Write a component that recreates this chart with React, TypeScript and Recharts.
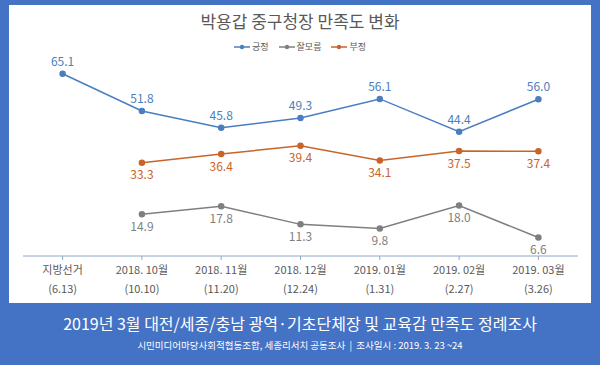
import React from "react";
import { LineChart, Line, XAxis, YAxis, LabelList } from "recharts";

const months = ["지방선거", "2018. 10월", "2018. 11월", "2018. 12월", "2019. 01월", "2019. 02월", "2019. 03월"];
const dates = ["(6.13)", "(10.10)", "(11.20)", "(12.24)", "(1.31)", "(2.27)", "(3.26)"];
const positive = [65.1, 51.8, 45.8, 49.3, 56.1, 44.4, 56.0];
const unsure = [null, 14.9, 17.8, 11.3, 9.8, 18.0, 6.6];
const negative = [null, 33.3, 36.4, 39.4, 34.1, 37.5, 37.4];

const data = months.map((m, i) => ({
  month: m,
  date: dates[i],
  긍정: positive[i],
  잘모름: unsure[i],
  부정: negative[i],
}));

const FONT = "'Noto Sans CJK KR', 'Noto Sans', sans-serif";
const FRAME = "#4472C4";
const BLUE = "#4A7EC0";
const GRAY = "#7F7F7F";
const ORANGE = "#C8642A";

const series = [
  { key: "긍정", color: BLUE },
  { key: "잘모름", color: GRAY },
  { key: "부정", color: ORANGE },
];

const fmt = (v: any) => (v == null ? "" : Number(v).toFixed(1));

const DateTick = (props: any) => {
  const { x, y, payload, index } = props;
  return (
    <g>
      <text x={x} y={y + 12} textAnchor="middle" fontSize={11} fill="#595959" fontFamily={FONT}>
        {payload.value}
      </text>
      <text x={x} y={y + 31} textAnchor="middle" fontSize={11} fill="#595959" fontFamily={FONT}>
        {dates[index]}
      </text>
    </g>
  );
};

export default function App() {
  return (
    <div style={{ position: "absolute", left: 0, top: 0, width: 600, height: 365, background: FRAME, fontFamily: FONT }}>
      <div style={{ position: "absolute", left: 9, top: 5, width: 582, height: 298, background: "#fff" }} />
      <div style={{ position: "absolute", left: 0, top: 8, width: 600, textAlign: "center", fontSize: 17, color: "#595959" }}>
        박용갑 중구청장 만족도 변화
      </div>
      <div style={{ position: "absolute", left: 0, top: 40, width: 600, display: "flex", justifyContent: "center", gap: 10, fontSize: 9, color: "#595959" }}>
        {series.map((s) => (
          <span key={s.key} style={{ display: "flex", alignItems: "center" }}>
            <svg width={16} height={6} style={{ marginRight: 2 }}>
              <line x1={0} y1={3} x2={16} y2={3} stroke={s.color} strokeWidth={1.5} />
              <circle cx={8} cy={3} r={2.2} fill={s.color} />
            </svg>
            {s.key}
          </span>
        ))}
      </div>
      <div style={{ position: "absolute", left: 0, top: 0 }}>
        <LineChart width={600} height={365} data={data} margin={{ top: 60, right: 22, bottom: 79, left: 23 }}>
          <XAxis
            dataKey="month"
            height={30}
            padding={{ left: 39.6, right: 39.6 }}
            axisLine={{ stroke: "#8FA8C8" }}
            tickLine={{ stroke: "#8FA8C8" }}
            tickSize={4}
            tick={<DateTick />}
            interval={0}
          />
          <YAxis hide domain={[0, 70]} />
          <Line dataKey="긍정" stroke={BLUE} strokeWidth={1.5} dot={{ r: 2.5, fill: BLUE, stroke: BLUE }} isAnimationActive={false}>
            <LabelList dataKey="긍정" position="top" offset={8} fill={BLUE} fontSize={12} fontFamily={FONT} formatter={fmt} />
          </Line>
          <Line dataKey="잘모름" stroke={GRAY} strokeWidth={1.5} dot={{ r: 2.5, fill: GRAY, stroke: GRAY }} isAnimationActive={false}>
            <LabelList dataKey="잘모름" position="bottom" offset={8} fill={GRAY} fontSize={12} fontFamily={FONT} formatter={fmt} />
          </Line>
          <Line dataKey="부정" stroke={ORANGE} strokeWidth={1.5} dot={{ r: 2.5, fill: ORANGE, stroke: ORANGE }} isAnimationActive={false}>
            <LabelList dataKey="부정" position="bottom" offset={8} fill={ORANGE} fontSize={12} fontFamily={FONT} formatter={fmt} />
          </Line>
        </LineChart>
      </div>
      <div style={{ position: "absolute", left: 0, top: 311, width: 600, textAlign: "center", fontSize: 16, color: "#fff" }}>
        2019년 3월 대전/세종/충남 광역·기초단체장 및 교육감 만족도 정례조사
      </div>
      <div style={{ position: "absolute", left: 0, top: 338, width: 600, textAlign: "center", fontSize: 9.5, color: "#fff" }}>
        시민미디어마당사회적협동조합, 세종리서치 공동조사 &nbsp;| &nbsp;조사일시 : 2019. 3. 23 ~24
      </div>
    </div>
  );
}
